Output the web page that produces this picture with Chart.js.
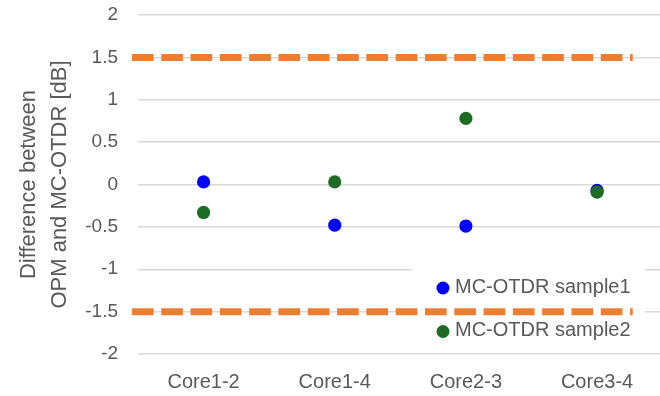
<!DOCTYPE html>
<html>
<head>
<meta charset="utf-8">
<script src="https://cdn.jsdelivr.net/npm/chart.js@4.4.1/dist/chart.umd.min.js"></script>
<style>
  html, body { margin: 0; padding: 0; background: #ffffff; }
  #wrap { width: 660px; height: 396px; }
</style>
</head>
<body>
<div id="wrap"><canvas id="chart" width="660" height="396"></canvas></div>
<script>
// Measured differences per core pair
const categories = ['Core1-2', 'Core1-4', 'Core2-3', 'Core3-4'];
const sample1 = [0.03, -0.48, -0.49, -0.07];
const sample2 = [-0.33, 0.03, 0.78, -0.09];
const seriesNames = ['MC-OTDR sample1', 'MC-OTDR sample2'];

// Tolerance limits (dB)
const limits = [1.5, -1.5];

// Y axis ticks
const yTicks = [-2, -1.5, -1, -0.5, 0, 0.5, 1, 1.5, 2];
const yTickLabels = ['-2', '-1.5', '-1', '-0.5', '0', '0.5', '1', '1.5', '2'];

const TEXT = '#595959';
const FONT = "'Liberation Sans', Arial, sans-serif";
const LIMIT_REACH = [0.454, 4.272]; // horizontal extent of the limit lines

const toPoints = vals => vals.map((v, i) => ({ x: i + 1, y: v }));

// Fixed axis box sizes, no extra label padding around the plot
const fixSize = (w, h) => s => {
  if (w != null) s.width = w;
  if (h != null) s.height = h;
  s.paddingTop = 0; s.paddingBottom = 0; s.paddingLeft = 0; s.paddingRight = 0;
};

// Legend box inside the plot, under the limit lines
const insetLegend = {
  id: 'insetLegend',
  beforeDatasetsDraw(chart) {
    const { ctx, chartArea } = chart;
    const w = 233, h = 88;
    const bx = chartArea.right - 15 - w;
    const by = chartArea.bottom - 2 - h;
    ctx.save();
    ctx.fillStyle = '#ffffff';
    ctx.fillRect(bx, by, w, h);
    const items = chart.data.datasets.filter(d => d.inLegend);
    ctx.font = '20px ' + FONT;
    ctx.textBaseline = 'middle';
    ctx.textAlign = 'left';
    items.forEach((d, i) => {
      const cy = by + 24 + i * 43.5;
      ctx.beginPath();
      ctx.fillStyle = d.backgroundColor;
      ctx.arc(bx + 31, cy, 6.5, 0, Math.PI * 2);
      ctx.fill();
      ctx.fillStyle = TEXT;
      ctx.fillText(d.label, bx + 43, cy - 1);
    });
    ctx.restore();
  }
};

const limitSets = limits.map(v => ({
  type: 'line',
  label: 'limit ' + v,
  data: LIMIT_REACH.map(x => ({ x, y: v })),
  showLine: true,
  borderColor: '#ED7D31',
  borderWidth: 7,
  borderDash: [21.7, 7.6],
  borderCapStyle: 'butt',
  pointRadius: 0,
  clip: false,
  order: 0
}));

new Chart(document.getElementById('chart'), {
  type: 'scatter',
  data: {
    datasets: [
      {
        label: seriesNames[0],
        data: toPoints(sample1),
        backgroundColor: '#0000FF',
        pointRadius: 6.6,
        pointBorderWidth: 0,
        inLegend: true,
        order: 2
      },
      {
        label: seriesNames[1],
        data: toPoints(sample2),
        backgroundColor: '#1E6B23',
        pointRadius: 6.6,
        pointBorderWidth: 0,
        inLegend: true,
        order: 1
      },
      ...limitSets
    ]
  },
  options: {
    responsive: false,
    animation: false,
    devicePixelRatio: 1,
    layout: { autoPadding: false, padding: { top: 15, left: 0, right: 0, bottom: 0 } },
    plugins: {
      legend: { display: false },
      tooltip: { enabled: false }
    },
    scales: {
      x: {
        type: 'linear',
        min: 0.5,
        max: 4.48,
        afterBuildTicks: s => { s.ticks = categories.map((c, i) => ({ value: i + 1 })); },
        afterFit: fixSize(null, 42),
        grid: { display: false, drawTicks: false },
        border: { display: false },
        ticks: {
          autoSkip: false,
          maxRotation: 0,
          padding: 16,
          color: TEXT,
          font: { family: FONT, size: 20 },
          callback: v => categories[Math.round(v) - 1]
        }
      },
      y: {
        min: -2,
        max: 2,
        afterBuildTicks: s => { s.ticks = yTicks.map(v => ({ value: v })); },
        afterFit: fixSize(138, null),
        grid: { color: '#D9D9D9', lineWidth: 1.5, drawTicks: false },
        border: { display: false },
        ticks: {
          padding: 20,
          color: TEXT,
          font: { family: FONT, size: 19 },
          callback: v => yTickLabels[yTicks.indexOf(v)]
        },
        title: {
          display: true,
          text: ['Difference between', 'OPM and MC-OTDR [dB]'],
          color: TEXT,
          font: { family: FONT, size: 22, lineHeight: 1.4 },
          padding: { top: 13.6, bottom: 0 }
        }
      }
    }
  },
  plugins: [insetLegend]
});
</script>
</body>
</html>
